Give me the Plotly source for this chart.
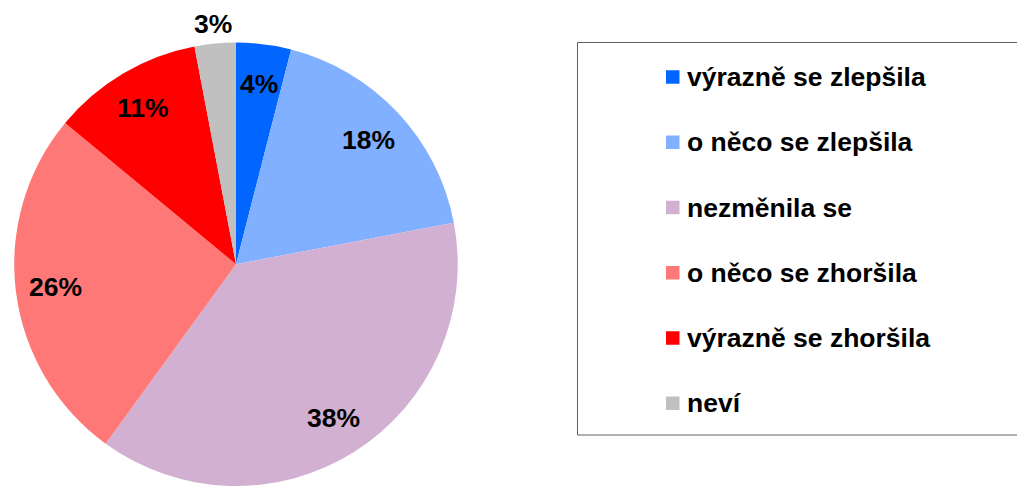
import math
import plotly.graph_objects as go

# ---- data ----
categories = ["výrazně se zlepšila", "o něco se zlepšila", "nezměnila se",
              "o něco se zhoršila", "výrazně se zhoršila", "neví"]
values = [4, 18, 38, 26, 11, 3]
colors = ["#0066FF", "#80B0FF", "#D2B0D2", "#FF7878", "#FF0000", "#C0C0C0"]
label_outside = [False, False, False, False, False, True]

# body margin is removed by post_script, so window pixels == figure pixels
PAGE_MARGIN = 0
W, H = 1017, 486
FONT = "Liberation Sans, Arial, sans-serif"
FS = 26.5


def fx(px):  # window pixel -> paper x
    return (px - PAGE_MARGIN) / W


def fy(py):  # window pixel -> paper y
    return (H - (py - PAGE_MARGIN)) / H


# pie geometry (window pixels); the bottom runs slightly off the page
cx, cy, R = 236.0, 264.5, 222.0
dom_h = min(2 * R, H - (cy - R))
dom_x = [fx(cx - R), fx(cx + R)]
dom_y = [0.0, fy(cy - R)]

fig = go.Figure()
fig.add_trace(go.Pie(
    labels=categories, values=values, sort=False, direction="clockwise",
    rotation=0, marker=dict(colors=colors, line=dict(width=0)),
    textinfo="none", showlegend=False, domain=dict(x=dom_x, y=dom_y),
    hovertemplate="%{label}: %{value}%<extra></extra>",
))

annotations = []
shapes = []

# slice percentage labels, positioned from the data angles
total = sum(values)
cum = 0.0
for v, outside in zip(values, label_outside):
    mid = (cum + v / 2) / total * 2 * math.pi
    cum += v
    r = R * (1.09 if outside else 0.82)
    px = cx + r * math.sin(mid)
    py = cy - r * math.cos(mid)
    annotations.append(dict(
        x=fx(px), y=fy(py), xref="paper", yref="paper",
        text=f"{v}%", showarrow=False, xanchor="center", yanchor="middle",
        font=dict(family=FONT, size=FS, color="black", weight="bold"),
    ))

# legend box: open on the right, since it runs off the window in the reference
box_l, box_t, box_b, box_r = 577.5, 42.5, 435.0, 1030.0
border = dict(color="#606060", width=1)
for (x0, y0, x1, y1) in [(box_l, box_t, box_r, box_t),
                         (box_l, box_b, box_r, box_b),
                         (box_l, box_t, box_l, box_b)]:
    shapes.append(dict(type="line", xref="paper", yref="paper",
                       x0=fx(x0), y0=fy(y0), x1=fx(x1), y1=fy(y1), line=border))

row0, gap = 77.0, 65.25
for i, (cat, col) in enumerate(zip(categories, colors)):
    yc = row0 + i * gap
    shapes.append(dict(type="rect", xref="paper", yref="paper",
                       x0=fx(666), x1=fx(679.5),
                       y0=fy(yc + 6.75), y1=fy(yc - 6.75),
                       line=dict(width=0), fillcolor=col))
    annotations.append(dict(
        x=fx(685), y=fy(yc), xref="paper", yref="paper",
        text=cat, showarrow=False, xanchor="left", yanchor="middle",
        font=dict(family=FONT, size=FS, color="black", weight="bold"),
    ))

fig.update_layout(
    width=W, height=H, margin=dict(l=0, r=0, t=0, b=0),
    paper_bgcolor="white", plot_bgcolor="white",
    annotations=annotations, shapes=shapes, showlegend=False,
)
fig.write_html(
    "out.html",
    config={"displayModeBar": False},
    post_script="document.body.style.margin='0';document.body.style.overflow='hidden';",
)
